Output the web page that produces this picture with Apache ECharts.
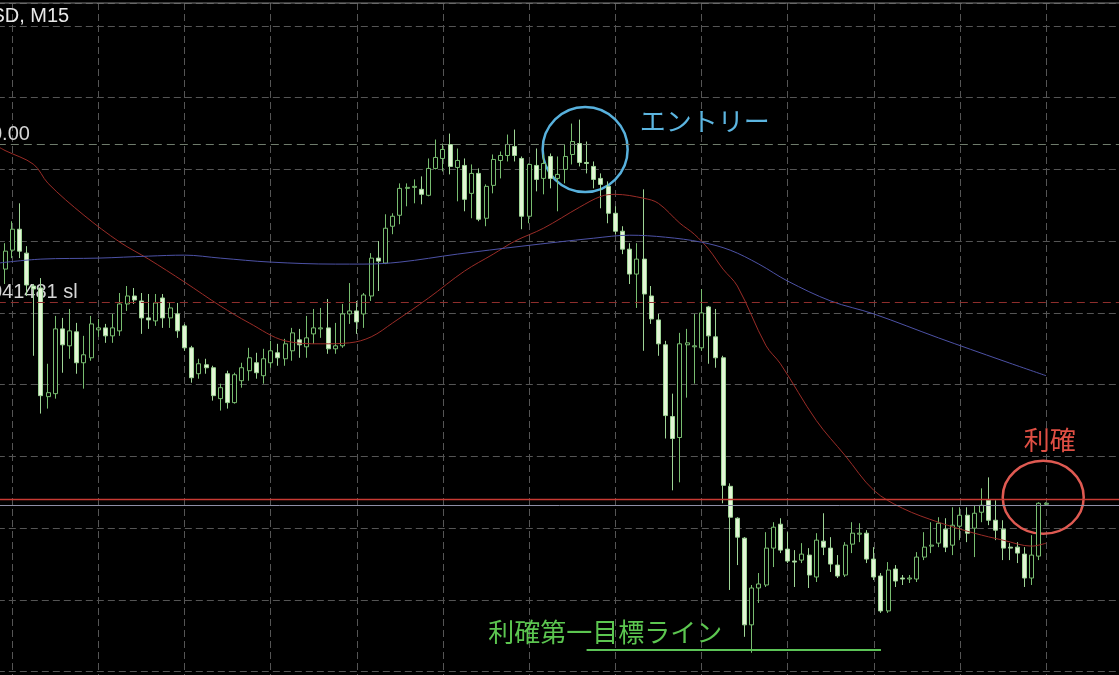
<!DOCTYPE html>
<html><head><meta charset="utf-8">
<script src="https://cdn.jsdelivr.net/npm/echarts@6/dist/echarts.min.js"></script>
<style>html,body{margin:0;padding:0;background:#000;overflow:hidden}#c{width:1119px;height:675px}</style>
</head><body><div id="c"></div>
<script>
// Prices in points (1 point = 0.00001), M15 bars, oldest first
const openPts = [
104084,104103,104124,104100,104067,104065,103956,103959,104024,104007,
104021,103990,103995,104023,104025,104017,104022,104049,104057,104052,
104035,104032,104055,104035,104039,104027,104005,103979,103988,103985,
103954,103979,103950,103972,103982,103990,103977,103990,104000,103994,
104002,104013,104006,104019,104024,104025,104004,104007,104039,104042,
104039,104057,104095,104090,104127,104138,104165,104166,104164,104158,
104185,104195,104209,104186,104188,104160,104180,104135,104168,104193,
104198,104207,104195,104137,104188,104175,104197,104175,104184,104199,
104210,104191,104187,104175,104167,104140,104122,104104,104079,104094,
104057,104033,104008,103936,103915,104008,104006,104005,104046,104016,
103995,103866,103834,103814,103727,103764,103767,103804,103828,103803,
103791,103792,103797,103775,103811,103804,103787,103777,103808,103818,
103819,103793,103776,103741,103783,103774,103773,103773,103795,103806,
103809,103823,103807,103826,103837,103824,103840,103852,103832,103823,
103805,103805,103798,103774,103796,103848];
const closePts = [
104102,104124,104102,104068,104064,103957,103960,104024,104008,104022,
103990,103998,104029,104025,104017,104025,104049,104057,104053,104035,
104033,104050,104035,104045,104022,104005,103975,103989,103985,103957,
103965,103950,103978,103985,103995,103980,103994,104002,103995,104009,
104020,104008,104015,104025,104025,104004,104007,104039,104042,104031,
104058,104095,104092,104125,104137,104165,104166,104167,104159,104185,
104196,104204,104187,104193,104154,104180,104134,104167,104194,104198,
104209,104198,104137,104189,104174,104190,104175,104179,104197,104212,
104191,104190,104174,104169,104140,104122,104104,104079,104094,104059,
104034,104009,103937,103914,104009,104010,104007,104040,104017,103995,
103867,103835,103815,103727,103764,103768,103804,103825,103802,103791,
103790,103798,103777,103812,103805,103788,103776,103807,103819,103819,
103793,103775,103741,103782,103771,103773,103774,103795,103805,103807,
103829,103805,103827,103837,103819,103839,103847,103832,103822,103804,
103804,103799,103774,103797,103849,103849];
const highPts = [
104110,104132,104150,104107,104069,104075,103989,104037,104035,104044,
104030,104017,104037,104034,104029,104039,104060,104067,104065,104060,
104059,104059,104059,104050,104050,104029,104007,103994,103994,103987,
103969,103982,103980,103990,104005,104000,104004,104012,104009,104014,
104025,104024,104037,104044,104045,104054,104030,104049,104070,104052,
104060,104100,104112,104139,104140,104170,104170,104174,104177,104195,
104214,104210,104220,104205,104195,104189,104185,104169,104199,104202,
104219,104224,104197,104190,104205,104199,104200,104197,104209,104230,
104234,104212,104192,104180,104172,104147,104127,104110,104110,104164,
104067,104039,104012,103959,104020,104024,104039,104064,104047,104044,
103997,103869,103835,103815,103767,103779,103820,103830,103834,103820,
103802,103809,103804,103819,103839,103815,103797,103810,103830,103829,
103822,103805,103779,103790,103787,103777,103777,103800,103820,103830,
103835,103834,103845,103845,103845,103847,103864,103875,103852,103832,
103809,103810,103805,103817,103850,103850];
const lowPts = [
104069,104095,104095,104057,103997,103939,103944,103954,103980,103994,
103979,103964,103992,104016,104010,104010,104017,104042,104049,104019,
104024,104027,104025,104025,104015,104002,103970,103974,103979,103952,
103942,103944,103949,103965,103972,103974,103969,103985,103987,103987,
103992,103995,103995,104009,104015,103999,103999,104005,104029,104019,
104025,104052,104062,104089,104119,104129,104147,104150,104149,104157,
104184,104182,104179,104152,104142,104135,104132,104127,104160,104175,
104192,104192,104124,104130,104162,104159,104165,104142,104170,104189,
104187,104180,104165,104145,104130,104119,104099,104069,104045,104002,
104029,103997,103914,103862,103870,103955,103969,104002,103989,103985,
103849,103762,103787,103715,103699,103749,103765,103785,103799,103789,
103765,103789,103764,103770,103797,103780,103774,103775,103799,103810,
103789,103772,103739,103739,103765,103767,103769,103770,103792,103799,
103805,103800,103797,103812,103810,103795,103830,103827,103812,103792,
103792,103789,103765,103767,103792,103847];
// moving averages: [bar index, value]
const redMA = [[-1,104207],[0,104203],[4,104189],[6,104170],[11,104138],[16,104111],[20,104094],[25,104071],[30,104047],[34,104030],[39,104012],[44,104009],[48,104010],[51,104016],[54,104030],[59,104055],[64,104082],[68,104099],[71,104112],[75,104125],[80,104146],[83,104157],[85,104159],[89,104155],[91,104150],[94,104130],[96,104119],[98,104104],[100,104084],[102,104067],[106,104007],[108,103989],[113,103932],[117,103897],[121,103862],[125,103844],[130,103830],[135,103819],[139,103812],[143,103806],[145,103809]];
const blueMA = [[-1,104090],[5,104094],[13,104095],[20,104097],[25,104098],[30,104095],[37,104091],[46,104089],[50,104089],[55,104091],[63,104099],[72,104107],[82,104115],[87,104118],[92,104116],[97,104111],[101,104103],[105,104089],[109,104072],[115,104052],[121,104039],[130,104015],[139,103992],[145,103977]];
// horizontal levels
const entryLevel = 104209, slLevel = 104051, askLevel = 103853, bidLevel = 103847;
const targetLevel = 103702, targetFrom = 81, targetTo = 122;
// axis
const priceMin = 103608, priceMax = 104351, priceStep = 72;
const barCount = 158; // one slot before the first bar, empty slots after the last
const categories = Array.from({length: barCount}, (_, k) => 'bar' + (k - 1));
// annotation anchors: [bar index, price]
const entryMark = [80.8, 104204], entryTextAt = [88.4, 104232];
const tpMark = [144.6, 103855], tpTextAt = [145.5, 103912];
const targetTextAt = [83.6, 103720];

const candleData = [['-','-','-','-']].concat(openPts.map((o, i) => [o, closePts[i], lowPts[i], highPts[i]]));
const shift = p => [p[0] + 1, p[1]];

const chart = echarts.init(document.getElementById('c'), null, {renderer: 'canvas'});
const gridDash = {color: '#555', width: 1, type: [7, 4]};
chart.setOption({
  backgroundColor: '#000',
  animation: false,
  grid: {left: -2.18, top: 3, width: 1127.26, height: 740.45, containLabel: false, outerBoundsMode: 'none'},
  xAxis: {
    type: 'category', data: categories, boundaryGap: false,
    axisLine: {show: false}, axisTick: {show: false}, axisLabel: {show: false},
    splitLine: {show: true, interval: (idx) => idx >= 2 && (idx - 2) % 12 === 0, lineStyle: gridDash}
  },
  yAxis: {
    type: 'value', min: priceMin, max: priceMax, interval: priceStep, scale: true,
    axisLine: {show: false}, axisTick: {show: false}, axisLabel: {show: false},
    splitLine: {show: true, lineStyle: gridDash}
  },
  series: [
    {
      type: 'candlestick', data: candleData, barWidth: 4.5, clip: false, silent: true, z: 2,
      itemStyle: {color: '#000', color0: '#e3f5d6', borderColor: '#78bd70', borderColor0: '#9ed596', borderWidth: 1},
      markLine: {
        silent: true, symbol: ['none', 'none'], label: {show: false}, animation: false,
        data: [
          {yAxis: entryLevel, lineStyle: {color: '#6f7c6c', width: 1, type: [8, 5]}},
          {yAxis: slLevel, lineStyle: {color: '#8e2e2c', width: 1, type: [8, 5]}},
          {yAxis: bidLevel, lineStyle: {color: '#8e8ea6', width: 1, type: 'solid'}},
          {yAxis: askLevel, lineStyle: {color: '#c83a33', width: 1.3, type: 'solid'}},
          [{coord: [targetFrom + 1, targetLevel], lineStyle: {color: '#5cc457', width: 2, type: 'solid'}},
           {coord: [targetTo + 1, targetLevel]}]
        ]
      }
    },
    {type: 'line', data: redMA.map(shift), smooth: 0.35, symbol: 'none', silent: true, z: 3,
     lineStyle: {color: '#9a2c27', width: 1}},
    {type: 'line', data: blueMA.map(shift), smooth: 0.35, symbol: 'none', silent: true, z: 3,
     lineStyle: {color: '#4d52a6', width: 1}}
  ]
});

function toPx(p) {
  const c = p[0] + 1, c0 = Math.floor(c), f = c - c0;
  const a = chart.convertToPixel({gridIndex: 0}, [c0, p[1]]);
  const b = chart.convertToPixel({gridIndex: 0}, [c0 + 1, p[1]]);
  return [a[0] + (b[0] - a[0]) * f, a[1]];
}
const eC = toPx(entryMark), eT = toPx(entryTextAt), tC = toPx(tpMark), tT = toPx(tpTextAt), gT = toPx(targetTextAt);
const entryY = chart.convertToPixel({gridIndex: 0}, [0, entryLevel])[1];
const slY = chart.convertToPixel({gridIndex: 0}, [0, slLevel])[1];
const jp = '26px "Noto Sans CJK JP"';
const lbl = '20px "Liberation Sans", Arial, sans-serif';
chart.setOption({
  graphic: [
    {type: 'line', shape: {x1: 0, y1: 3, x2: 1119, y2: 3}, style: {stroke: '#7c7c7c', lineWidth: 1}, silent: true},
    {type: 'text', x: -23, y: 16, style: {text: 'USD, M15', fill: '#e9e9e9', font: lbl, textVerticalAlign: 'middle'}, silent: true},
    {type: 'text', x: -9, y: entryY - 10, style: {text: '0.00', fill: '#d6d6d6', font: lbl, textVerticalAlign: 'middle'}, silent: true},
    {type: 'text', x: -9, y: slY - 9, style: {text: '041481 sl', fill: '#d6d6d6', font: lbl, textVerticalAlign: 'middle'}, silent: true},
    {type: 'circle', shape: {cx: eC[0], cy: eC[1], r: 42.5}, style: {fill: 'none', stroke: '#58b1dd', lineWidth: 2.5}, silent: true},
    {type: 'text', x: eT[0], y: eT[1], style: {text: 'エントリー', fill: '#5cb5e0', font: jp, textAlign: 'left', textVerticalAlign: 'middle'}, silent: true},
    {type: 'ellipse', shape: {cx: tC[0], cy: tC[1], rx: 40.5, ry: 36.5}, style: {fill: 'none', stroke: '#df5a52', lineWidth: 2.5}, silent: true},
    {type: 'text', x: tT[0], y: tT[1], style: {text: '利確', fill: '#df4f44', font: jp, textAlign: 'center', textVerticalAlign: 'middle'}, silent: true},
    {type: 'text', x: gT[0], y: gT[1], style: {text: '利確第一目標ライン', fill: '#5cc650', font: jp, textAlign: 'center', textVerticalAlign: 'middle'}, silent: true}
  ]
});
</script></body></html>
